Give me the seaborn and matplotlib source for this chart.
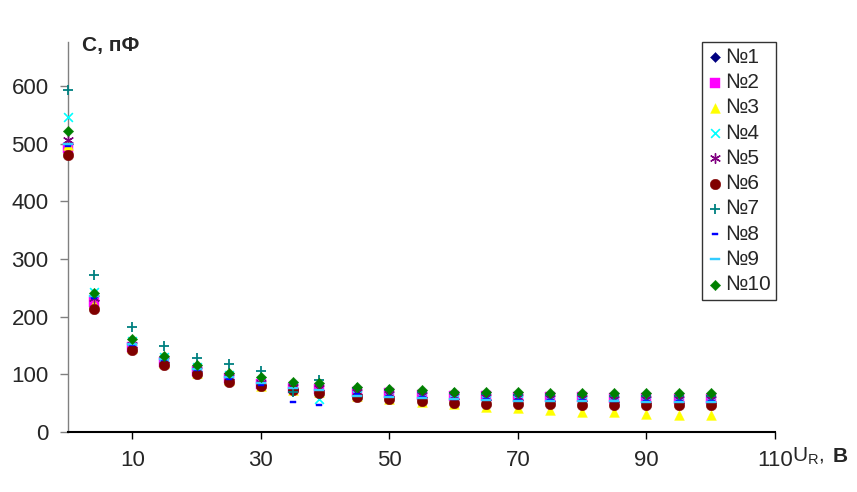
import matplotlib
matplotlib.use("Agg")
import matplotlib.pyplot as plt
import seaborn as sns
import pandas as pd
from matplotlib.path import Path

# ---- data ----
u_values = [0, 4, 10, 15, 20, 25, 30, 35, 39, 45, 50, 55, 60, 65, 70, 75, 80, 85, 90, 95, 100]
series_names = ["№1", "№2", "№3", "№4", "№5", "№6", "№7", "№8", "№9", "№10"]
s1 = [500, 228, 148, 122, 106, 92, 82, 75, 72, 66, 63, 60, 58, 56, 55, 54, 53, 52, 51, 51, 50]
s2 = [492, 225, 148, 122, 106, 93, 83, 76, 74, 70, 67, 65, 63, 62, 61, 60, 60, 59, 59, 58, 58]
s3 = [497, 222, 145, 119, 103, 90, 80, 72, 70, 62, 57, 52, 48, 44, 41, 38, 35, 34, 32, 30, 29]
s4 = [546, 243, 157, 130, 112, 99, 88, 78, 57, 64, 62, 60, 58, 56, 55, 55, 54, 54, 53, 53, 53]
s5 = [507, 232, 150, 124, 108, 95, 85, 78, 76, 70, 66, 64, 62, 61, 60, 59, 59, 58, 58, 57, 57]
s6 = [481, 214, 142, 116, 100, 87, 79, 72, 68, 61, 57, 53, 51, 49, 48, 48, 47, 47, 46, 46, 46]
s7 = [592, 272, 182, 149, 129, 118, 106, 70, 90, 76, 72, 70, 68, 66, 65, 64, 64, 63, 63, 62, 62]
s8 = [495, 232, 150, 124, 108, 92, 82, 52, 46, 66, 63, 60, 58, 57, 56, 55, 55, 54, 54, 53, 53]
s9 = [500, 236, 152, 126, 110, 95, 85, 76, 72, 63, 61, 59, 57, 55, 54, 54, 53, 53, 52, 52, 52]
s10 = [521, 241, 161, 132, 116, 102, 95, 86, 85, 78, 75, 73, 70, 69, 69, 68, 68, 68, 68, 68, 68]
all_series = [s1, s2, s3, s4, s5, s6, s7, s8, s9, s10]
x_ticks = [10, 30, 50, 70, 90, 110]
y_ticks = [0, 100, 200, 300, 400, 500, 600]

colors = ["#000080", "#FF00FF", "#FFFF00", "#00FFFF", "#800080",
          "#800000", "#008080", "#0000FF", "#33CCFF", "#008000"]

short_dash = Path([(-1, -0.45), (1, -0.45), (1, 0.45), (-1, 0.45), (-1, -0.45)],
                  [Path.MOVETO, Path.LINETO, Path.LINETO, Path.LINETO, Path.CLOSEPOLY])
long_dash = Path([(-1, -0.18), (1, -0.18), (1, 0.18), (-1, 0.18), (-1, -0.18)],
                 [Path.MOVETO, Path.LINETO, Path.LINETO, Path.LINETO, Path.CLOSEPOLY])

styles = [
    dict(marker="D", s=26, filled=True),
    dict(marker="s", s=42, filled=True),
    dict(marker="^", s=50, filled=True),
    dict(marker="x", s=40, filled=False, lw=1.2),
    dict(marker=(6, 2, 0), s=50, filled=False, lw=1.0),
    dict(marker="o", s=58, filled=True),
    dict(marker="+", s=55, filled=False, lw=1.3),
    dict(marker=short_dash, s=22, filled=True),
    dict(marker=long_dash, s=45, filled=True),
    dict(marker="D", s=28, filled=True),
]

sns.set_style("white")
plt.rcParams["font.family"] = ["Liberation Sans", "DejaVu Sans"]

fig = plt.figure(figsize=(8.57, 4.92), dpi=100)
ax = fig.add_axes([68 / 857, 60 / 492, 707 / 857, 390 / 492])

for name, vals, col, st in zip(series_names, all_series, colors, styles):
    df = pd.DataFrame({"U": u_values, "C": vals})
    if st["filled"]:
        sns.scatterplot(data=df, x="U", y="C", ax=ax, marker=st["marker"], s=st["s"],
                        color=col, edgecolor=col, linewidth=0.3, label=name,
                        zorder=3, clip_on=False)
    else:
        sns.scatterplot(data=df, x="U", y="C", ax=ax, marker=st["marker"], s=st["s"],
                        color=col, linewidth=st["lw"], label=name,
                        zorder=3, clip_on=False)

ax.set_xlim(0, 110)
ax.set_ylim(0, 676)
ax.set_xticks(x_ticks)
ax.set_yticks(y_ticks)
ax.set_xlabel("")
ax.set_ylabel("")
ax.tick_params(axis="both", labelsize=16, direction="out")
ax.tick_params(axis="y", length=6, width=1, color="#808080", pad=8, left=True)
ax.tick_params(axis="x", length=5, width=1, color="black", pad=8, bottom=True)
for side in ["top", "right"]:
    ax.spines[side].set_visible(False)
ax.spines["left"].set_color("#808080")
ax.spines["left"].set_linewidth(1)
ax.spines["bottom"].set_color("black")
ax.spines["bottom"].set_linewidth(1.5)
ax.grid(False)

leg = ax.legend(loc="upper right", bbox_to_anchor=(1.002, 1.0), borderaxespad=0,
                frameon=True, fancybox=False, edgecolor="black", fontsize=15,
                labelspacing=0.3, handletextpad=0.1, handlelength=0.7,
                borderpad=0.28, scatterpoints=1)
leg.get_frame().set_linewidth(1.0)

fig.text(82 / 857, 1 - 46 / 492, "С, пФ", fontsize=15, fontweight="bold",
         ha="left", va="center")
fig.text(792 / 857, 1 - 456 / 492, r"U$_\mathregular{R}$,", fontsize=15,
         ha="left", va="center")
fig.text(833 / 857, 1 - 456 / 492, "В", fontsize=15, fontweight="bold",
         ha="left", va="center")

fig.savefig("out.png", dpi=100, facecolor="white")
